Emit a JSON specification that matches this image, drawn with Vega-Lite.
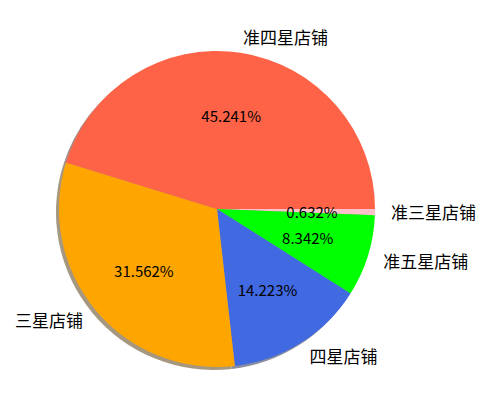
{
  "$schema": "https://vega.github.io/schema/vega-lite/v6.json",
  "autosize": "none",
  "width": 434,
  "height": 418,
  "padding": {"left": 0, "top": 0, "right": 58, "bottom": 1},
  "background": "white",
  "data": {
    "values": [
      {"label": "准三星店铺", "pct": 0.00632, "rank": 1},
      {"label": "准五星店铺", "pct": 0.08342, "rank": 2},
      {"label": "四星店铺", "pct": 0.14223, "rank": 3},
      {"label": "三星店铺", "pct": 0.31562, "rank": 4},
      {"label": "准四星店铺", "pct": 0.45241, "rank": 5}
    ]
  },
  "encoding": {
    "theta": {"field": "pct", "type": "quantitative", "stack": true, "scale": {"range": [1.5708, 7.854]}},
    "order": {"field": "rank", "type": "quantitative"}
  },
  "layer": [
    {
      "mark": {"type": "arc", "outerRadius": 158, "xOffset": -3, "yOffset": 3},
      "encoding": {
        "color": {
          "field": "label", "type": "nominal", "legend": null,
          "scale": {
            "domain": ["准三星店铺", "准五星店铺", "四星店铺", "三星店铺", "准四星店铺"],
            "range": ["#a69c9e", "#80a680", "#898fa1", "#a69880", "#a68e8a"]
          }
        }
      }
    },
    {
      "mark": {"type": "arc", "outerRadius": 158},
      "encoding": {
        "color": {
          "field": "label", "type": "nominal", "legend": null,
          "scale": {
            "domain": ["准三星店铺", "准五星店铺", "四星店铺", "三星店铺", "准四星店铺"],
            "range": ["#ffc0cb", "#00ff00", "#4169e1", "#ffa500", "#ff6347"]
          }
        }
      }
    },
    {
      "mark": {"type": "text", "radius": 95, "font": "Noto Sans CJK SC", "fontSize": 15, "color": "black", "baseline": "middle", "dy": 2},
      "encoding": {
        "text": {"field": "pct", "type": "quantitative", "format": ".3%"}
      }
    },
    {
      "mark": {
        "type": "text", "radius": 174, "font": "Noto Sans CJK SC", "fontSize": 17, "color": "black", "baseline": "middle", "dy": 2,
        "align": {"expr": "datum.label == '三星店铺' ? 'right' : 'left'"}
      },
      "encoding": {
        "text": {"field": "label", "type": "nominal"}
      }
    }
  ],
  "resolve": {"scale": {"color": "independent"}}
}
